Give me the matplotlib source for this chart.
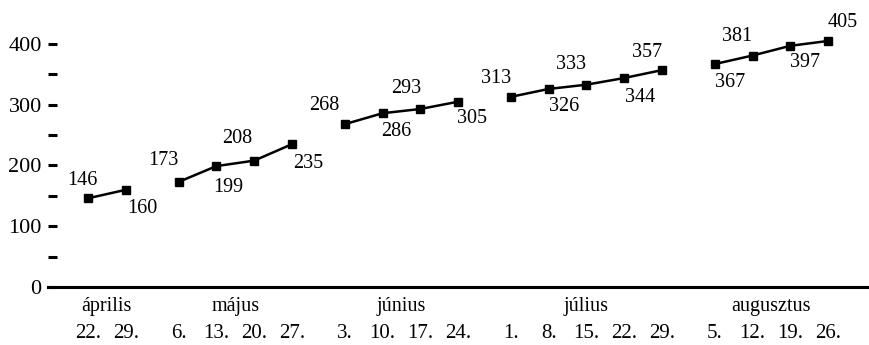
import matplotlib
matplotlib.use('Agg')
import matplotlib.pyplot as plt
from matplotlib.ticker import FixedLocator

plt.rcParams['font.family'] = ['Liberation Serif', 'DejaVu Serif']

months = ['április', 'május', 'június', 'július', 'augusztus']
days = [['22.', '29.'],
        ['6.', '13.', '20.', '27.'],
        ['3.', '10.', '17.', '24.'],
        ['1.', '8.', '15.', '22.', '29.'],
        ['5.', '12.', '19.', '26.']]
values = [[146, 160],
          [173, 199, 208, 235],
          [268, 286, 293, 305],
          [313, 326, 333, 344, 357],
          [367, 381, 397, 405]]

# label offsets in pixels (dx, dy), alternating above-left / below-right
label_off = [(-6, 18), (17, -19),
             (-15, 21), (12, -21), (-17, 22), (16, -19),
             (-21, 19), (14, -18), (-14, 20), (14, -17),
             (-15, 18), (15, -18), (-15, 20), (16, -19), (-15, 18),
             (15, -18), (-16, 19), (15, -17), (15, 18)]

fig = plt.figure(figsize=(8.7, 3.45), dpi=100)
ax = fig.add_axes([48 / 870, 1 - 287 / 345, 1 - 48 / 870, 287 / 345])

gap = 0.4
i = 0
k = 0
for m, (mon, dl, vl) in enumerate(zip(months, days, values)):
    xs = [i + j + gap * m for j in range(len(vl))]
    ax.plot(xs, vl, color='black', lw=1.8, marker='s', ms=6.2, mec='black', mfc='black')
    for x, v, d in zip(xs, vl, dl):
        dx, dy = label_off[k]
        ax.annotate(str(v), (x, v), xytext=(dx, dy), textcoords='offset pixels',
                    ha='center', va='center', fontsize=14.5)
        ax.annotate(d, (x, 0), xycoords=('data', 'axes fraction'), xytext=(0, -46),
                    textcoords='offset pixels', ha='center', va='center', fontsize=15)
        k += 1
    ax.annotate(mon, ((xs[0] + xs[-1]) / 2, 0), xycoords=('data', 'axes fraction'),
                xytext=(0, -20), textcoords='offset pixels', ha='center', va='center',
                fontsize=14.5)
    i += len(vl)

ax.set_xlim(-1.06, 20.71)
ax.set_ylim(0, 472.4)
ax.yaxis.set_major_locator(FixedLocator([0, 100, 200, 300, 400]))
ax.yaxis.set_minor_locator(FixedLocator([50, 150, 250, 350]))
ax.tick_params(axis='y', which='both', direction='in', length=6.5, width=2.2,
               labelsize=16, pad=4.5)
ax.set_xticks([])
for s in ['top', 'right', 'left']:
    ax.spines[s].set_visible(False)
ax.spines['bottom'].set_linewidth(2.2)
ax.patch.set_visible(False)

fig.savefig('out.png', dpi=100)
